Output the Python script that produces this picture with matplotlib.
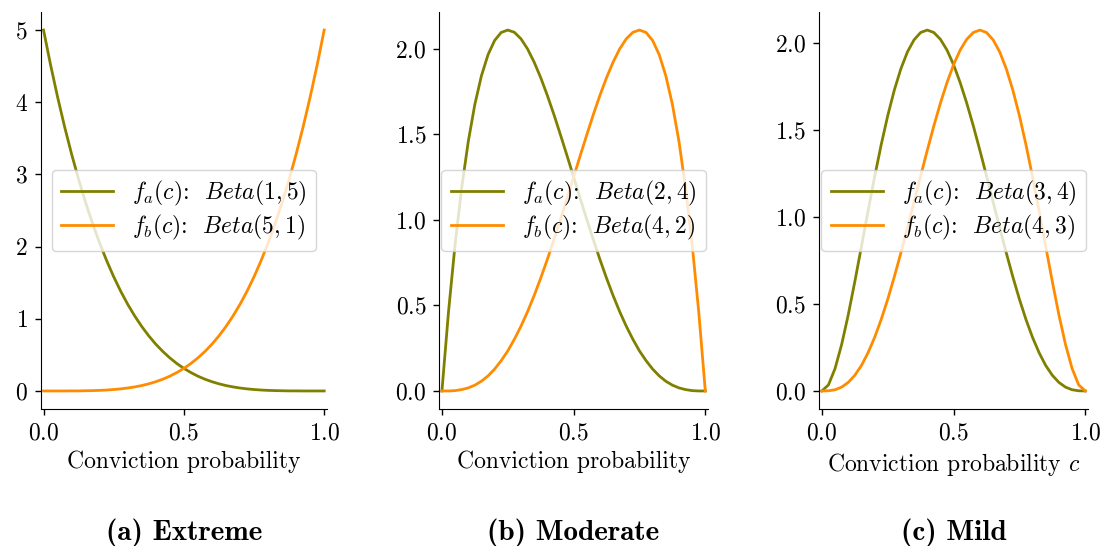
import matplotlib
matplotlib.use('Agg')
import matplotlib.pyplot as plt

plt.rcParams['font.family'] = 'serif'
plt.rcParams['font.serif'] = ['cmr10']
plt.rcParams['mathtext.fontset'] = 'cm'
plt.rcParams['axes.formatter.use_mathtext'] = True
plt.rcParams['font.size'] = 17

# conviction probability grid
conviction = [0.000, 0.025, 0.050, 0.075, 0.100, 0.125, 0.150, 0.175, 0.200, 0.225,
              0.250, 0.275, 0.300, 0.325, 0.350, 0.375, 0.400, 0.425, 0.450, 0.475,
              0.500, 0.525, 0.550, 0.575, 0.600, 0.625, 0.650, 0.675, 0.700, 0.725,
              0.750, 0.775, 0.800, 0.825, 0.850, 0.875, 0.900, 0.925, 0.950, 0.975, 1.000]

# (a) extreme
beta_1_5 = [5.000, 4.518, 4.073, 3.660, 3.281, 2.931, 2.610, 2.316, 2.048, 1.804,
            1.582, 1.381, 1.200, 1.038, 0.893, 0.763, 0.648, 0.547, 0.458, 0.380,
            0.313, 0.255, 0.205, 0.163, 0.128, 0.099, 0.075, 0.056, 0.041, 0.029,
            0.020, 0.013, 0.008, 0.005, 0.003, 0.001, 0.001, 0.000, 0.000, 0.000, 0.000]
beta_5_1 = [0.000, 0.000, 0.000, 0.000, 0.001, 0.001, 0.003, 0.005, 0.008, 0.013,
            0.020, 0.029, 0.041, 0.056, 0.075, 0.099, 0.128, 0.163, 0.205, 0.255,
            0.313, 0.380, 0.458, 0.547, 0.648, 0.763, 0.893, 1.038, 1.200, 1.381,
            1.582, 1.804, 2.048, 2.316, 2.610, 2.931, 3.281, 3.660, 4.073, 4.518, 5.000]

# (b) moderate
beta_2_4 = [0.000, 0.463, 0.857, 1.187, 1.458, 1.675, 1.842, 1.965, 2.048, 2.095,
            2.109, 2.096, 2.058, 1.999, 1.922, 1.831, 1.728, 1.616, 1.497, 1.375,
            1.250, 1.125, 1.002, 0.883, 0.768, 0.659, 0.557, 0.463, 0.378, 0.302,
            0.234, 0.177, 0.128, 0.088, 0.057, 0.034, 0.018, 0.008, 0.002, 0.000, 0.000]
beta_4_2 = [0.000, 0.000, 0.002, 0.008, 0.018, 0.034, 0.057, 0.088, 0.128, 0.177,
            0.234, 0.302, 0.378, 0.463, 0.557, 0.659, 0.768, 0.883, 1.002, 1.125,
            1.250, 1.375, 1.497, 1.616, 1.728, 1.831, 1.922, 1.999, 2.058, 2.096,
            2.109, 2.095, 2.048, 1.965, 1.842, 1.675, 1.458, 1.187, 0.857, 0.463, 0.000]

# (c) mild
beta_3_4 = [0.000, 0.035, 0.129, 0.267, 0.437, 0.628, 0.829, 1.032, 1.229, 1.414,
            1.582, 1.729, 1.852, 1.949, 2.018, 2.060, 2.074, 2.060, 2.021, 1.959,
            1.875, 1.772, 1.654, 1.523, 1.382, 1.236, 1.087, 0.938, 0.794, 0.656,
            0.527, 0.410, 0.307, 0.219, 0.146, 0.090, 0.049, 0.022, 0.007, 0.001, 0.000]
beta_4_3 = [0.000, 0.001, 0.007, 0.022, 0.049, 0.090, 0.146, 0.219, 0.307, 0.410,
            0.527, 0.656, 0.794, 0.938, 1.087, 1.236, 1.382, 1.523, 1.654, 1.772,
            1.875, 1.959, 2.021, 2.060, 2.074, 2.060, 2.018, 1.949, 1.852, 1.729,
            1.582, 1.414, 1.229, 1.032, 0.829, 0.628, 0.437, 0.267, 0.129, 0.035, 0.000]

labels_a = [r'$f_a(c)$:  $Beta(1,5)$', r'$f_a(c)$:  $Beta(2,4)$', r'$f_a(c)$:  $Beta(3,4)$']
labels_b = [r'$f_b(c)$:  $Beta(5,1)$', r'$f_b(c)$:  $Beta(4,2)$', r'$f_b(c)$:  $Beta(4,3)$']
xlabels = ['Conviction probability', 'Conviction probability', r'Conviction probability $c$']
captions = ['(a) Extreme', '(b) Moderate', '(c) Mild']

curves_a = [beta_1_5, beta_2_4, beta_3_4]
curves_b = [beta_5_1, beta_4_2, beta_4_3]

fig = plt.figure(figsize=(11.01, 5.46), dpi=100)
panel_rects = [[0.0370, 0.2509, 0.2600, 0.7271],
               [0.3990, 0.2509, 0.2440, 0.7271],
               [0.7441, 0.2509, 0.2440, 0.7271]]

for i in range(3):
    ax = fig.add_axes(panel_rects[i])
    ax.plot(conviction, curves_a[i], color='#808000', lw=2.0, label=labels_a[i])
    ax.plot(conviction, curves_b[i], color='#ff8c00', lw=2.0, label=labels_b[i])
    ax.margins(x=0.01)
    ax.set_xticks([0.0, 0.5, 1.0])
    ax.set_xlabel(xlabels[i], labelpad=5)
    ax.tick_params(length=4.3, width=1.0, pad=5)
    ax.spines['top'].set_visible(False)
    ax.spines['right'].set_visible(False)
    ax.legend(loc='center', handlelength=2.2, labelspacing=0.2)
    pos = ax.get_position()
    fig.text(pos.x0 + pos.width / 2, 0.024, captions[i], ha='center', va='center',
             fontfamily='cmb10', fontsize=21)

fig.savefig('out.png', dpi=100)
